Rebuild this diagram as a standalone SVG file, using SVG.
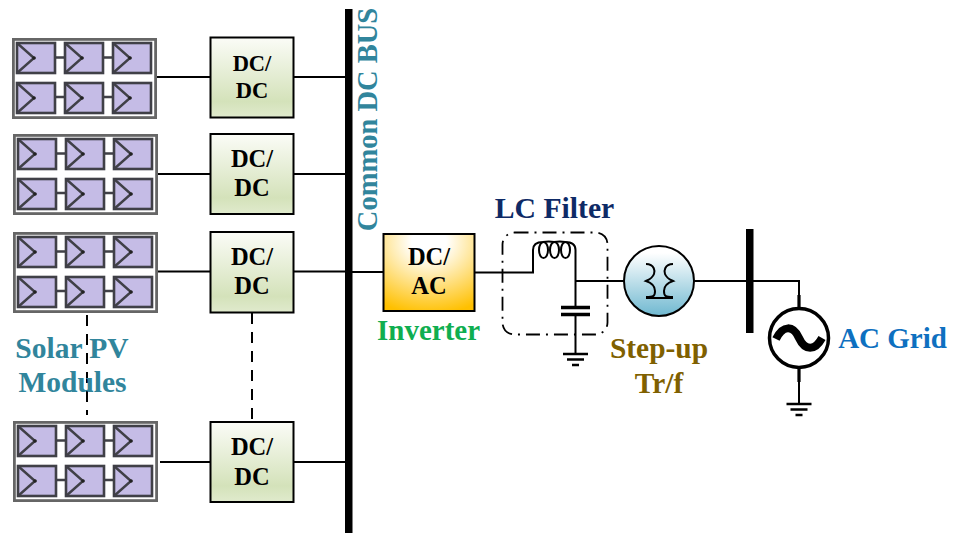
<svg xmlns="http://www.w3.org/2000/svg" xmlns:xlink="http://www.w3.org/1999/xlink" width="955" height="533" viewBox="0 0 955 533">
<style>
text{font-family:"Liberation Serif","Times New Roman",serif;font-weight:bold;text-anchor:middle}
.w{fill:none;stroke:#000;stroke-width:2}
.cell{fill:#c5bce6;stroke:#3f3f46;stroke-width:2.600}
.tick{fill:none;stroke:#3f3f46;stroke-width:2.400}
.frame{fill:#fff;stroke:#666;stroke-width:2.800}
.conv{fill:url(#g);stroke:#000;stroke-width:2}
.lbl{font-size:24.500px;fill:#000}
.teal{fill:#31859c}
</style>
<defs>
<linearGradient id="g" x1="0" y1="0" x2="0" y2="1"><stop offset="0" stop-color="#fbfcf7"/><stop offset="0.8" stop-color="#d4e2ba"/><stop offset="1" stop-color="#e0eacd"/></linearGradient>
<radialGradient id="o" cx="0.5" cy="0.1" r="0.95"><stop offset="0.2" stop-color="#fff"/><stop offset="1" stop-color="#ffc000"/></radialGradient>
<linearGradient id="b" x1="0" y1="0" x2="0" y2="1"><stop offset="0.1" stop-color="#fff"/><stop offset="1" stop-color="#6fb8d0"/></linearGradient>
<filter id="soft" x="-5%" y="-5%" width="110%" height="110%"><feGaussianBlur stdDeviation="0.4"/></filter>
<g id="c"><rect class="cell" width="38" height="30"/><path class="tick" d="M0 0L17 15L0 30"/><circle cx="17" cy="15" r="1.800" fill="#222"/></g>
<g id="panel" filter="url(#soft)">
<rect class="frame" x="1.400" y="1.400" width="142.200" height="78.200"/>
<path class="tick" d="M43 19.500h10M91 19.500h10M43 59h10M91 59h10"/>
<use xlink:href="#c" x="5" y="5"/><use xlink:href="#c" x="53" y="5"/><use xlink:href="#c" x="101" y="5"/>
<use xlink:href="#c" x="5" y="45"/><use xlink:href="#c" x="53" y="45"/><use xlink:href="#c" x="101" y="45"/>
</g>
<g id="gnd"><path fill="none" stroke="#000" stroke-width="2.500" d="M-12.500 0h25M-8.500 5.500h17M-3.500 11h7"/></g>
</defs>

<g id="connectors">
<path class="w" d="M157 77H210M293 77H345M158 174H210M293 174H345M158 271.500H210M293 271.500H345M160 462H210M293 462H345M352 272H383"/>
<path class="w" d="M87 315V415M252 313V421" stroke-dasharray="11 8"/>
<path class="w" d="M474 272.500H533V250M575.500 250V307M575.500 281H624M575.500 313V354M694 281H799V308M799 368V404" stroke-width="2.200"/>
<path d="M799 295V308M799 368V382" stroke="#000" stroke-width="3.200" fill="none"/>
</g>

<g id="bus-dc"><rect x="345" y="9" width="7.500" height="524" fill="#000"/>
<text transform="translate(377 119.500) rotate(-90)" font-size="28.500" class="teal">Common DC BUS</text></g>

<g id="pv1"><use xlink:href="#panel" x="12" y="38"/></g>
<g id="pv2"><use xlink:href="#panel" x="13" y="134"/></g>
<g id="pv3"><use xlink:href="#panel" x="13" y="232"/></g>
<g id="pv4"><use xlink:href="#panel" x="13" y="421"/></g>

<g id="dcdc1"><rect class="conv" x="210.500" y="37.500" width="83" height="80"/><text class="lbl" x="252" y="71" style="font-size:22.500px">DC/</text><text class="lbl" x="252" y="98" style="font-size:22.500px">DC</text></g>
<g id="dcdc2"><rect class="conv" x="210.500" y="134" width="83" height="80"/><text class="lbl" x="252" y="167">DC/</text><text class="lbl" x="252" y="196">DC</text></g>
<g id="dcdc3"><rect class="conv" x="210.500" y="232" width="83" height="80.500"/><text class="lbl" x="252" y="265">DC/</text><text class="lbl" x="252" y="294">DC</text></g>
<g id="dcdc4"><rect class="conv" x="210.500" y="422" width="83" height="80"/><text class="lbl" x="252" y="455">DC/</text><text class="lbl" x="252" y="485">DC</text></g>

<g id="solar-label"><text class="teal" x="72" y="358" font-size="29.500">Solar PV</text><text class="teal" x="72.500" y="392" font-size="29.500">Modules</text></g>

<g id="inverter"><rect x="383.500" y="234" width="91" height="77" fill="url(#o)" stroke="#000" stroke-width="2"/>
<text class="lbl" x="429" y="265">DC/</text><text class="lbl" x="429" y="294">AC</text>
<text x="428.500" y="340" font-size="29" fill="#0fae50">Inverter</text></g>

<g id="lc-filter">
<rect x="502.500" y="232.500" width="105" height="102" rx="12" fill="none" stroke="#000" stroke-width="1.800" stroke-dasharray="14 6 2 6"/>
<path fill="none" stroke="#000" stroke-width="2" d="M533 250Q533 242 543 242Q549 241 554 242Q560 241 565 242Q575.500 242 575.500 250"/>
<ellipse cx="543.500" cy="250" rx="4.500" ry="8" fill="none" stroke="#000" stroke-width="2"/>
<ellipse cx="554.500" cy="250" rx="4.500" ry="8" fill="none" stroke="#000" stroke-width="2"/>
<ellipse cx="565.500" cy="250" rx="4.500" ry="8" fill="none" stroke="#000" stroke-width="2"/>
<path d="M561 307.500H590M561 314.500H590" stroke="#000" stroke-width="3.500"/>
<use xlink:href="#gnd" x="575.500" y="354"/>
<text x="554.500" y="218" font-size="29.700" fill="#0e2a66">LC Filter</text>
</g>

<g id="transformer"><circle cx="659" cy="281" r="35" fill="url(#b)" stroke="#000" stroke-width="2"/>
<path fill="none" stroke="#000" stroke-width="2" d="M646 264C655 264 655 272 654 274C652 279 648 280 646 281C652 283 655 286 655 291C655 296 654 297 646 297M673 264C664 264 664 272 665 274C667 279 671 280 673 281C667 283 664 286 664 291C664 296 665 297 673 297M646 298H673"/>
<text x="659" y="358" font-size="29.400" fill="#7f6000">Step-up</text><text x="659" y="393" font-size="29.400" fill="#7f6000">Tr/f</text></g>

<g id="bus-ac"><rect x="746" y="229" width="7.500" height="104" fill="#000"/></g>

<g id="ac-grid"><circle cx="799" cy="338" r="29.500" fill="#fff" stroke="#000" stroke-width="3.500"/>
<path fill="none" stroke="#000" stroke-width="8" d="M776 339C783 325 793 325 799 338C805 351 815 351 822 338"/>
<use xlink:href="#gnd" x="799" y="404"/>
<text x="892.500" y="348" font-size="29" fill="#0e70c0">AC Grid</text></g>
</svg>
